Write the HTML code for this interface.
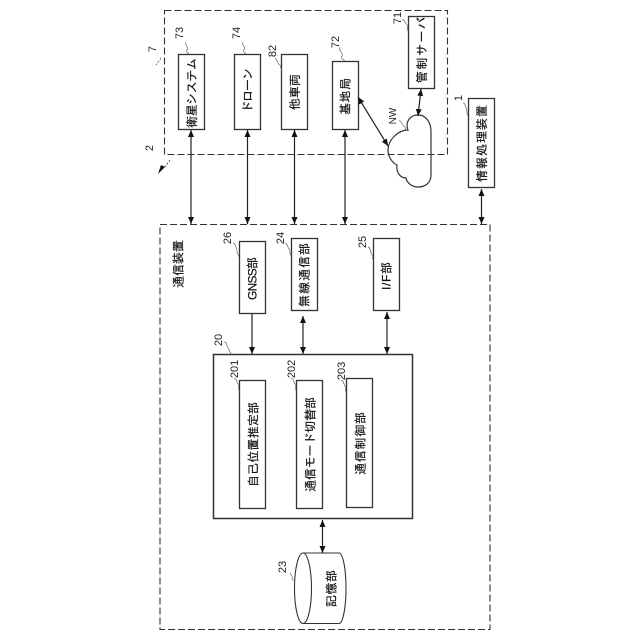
<!DOCTYPE html>
<html><head><meta charset="utf-8"><style>
html,body{margin:0;padding:0;background:#fff}
svg{display:block}
.b{fill:#fff;stroke:#333;stroke-width:1.3}
.d{fill:none;stroke:#333;stroke-width:1.1;stroke-dasharray:7 3}
.l{stroke:#222;stroke-width:1.2;fill:none}
.q{stroke:#666;stroke-width:.7;fill:none}
.t{font-family:"Liberation Sans","IPAGothic","Noto Sans CJK JP",sans-serif;font-size:12px;fill:#111;stroke:#111;stroke-width:.2}
.n{font-family:"Liberation Sans",sans-serif;font-size:11px;fill:#222}
</style></head><body>
<svg width="640" height="640" viewBox="0 0 640 640" xmlns="http://www.w3.org/2000/svg">
<defs>
<marker id="a" markerWidth="8" markerHeight="7" refX="7" refY="3.500" orient="auto-start-reverse" markerUnits="userSpaceOnUse"><path d="M0,.5L7,3.500L0,6.500z" fill="#111"/></marker>
</defs>
<rect class="d" x="164.500" y="10.500" width="283" height="144"/>
<rect class="d" x="160" y="224.500" width="330" height="405"/>

<rect class="b" x="178.500" y="54.500" width="26" height="75"/>
<rect class="b" x="234.500" y="54.500" width="26" height="75"/>
<rect class="b" x="281.500" y="54.500" width="26" height="75"/>
<rect class="b" x="332.500" y="61.500" width="26" height="68"/>
<rect class="b" x="408.500" y="16.500" width="26" height="72"/>
<rect class="b" x="468.500" y="98.500" width="26" height="89"/>

<path d="M408,130C405,122 410,115 418,115C426,115 431,122 431,132L431,175C431,183 425,187 418,187C412,187 407,183 406,178C400,178 396,172 397,165C392,163 388,156 388,150C388,140 398,130 408,130Z" fill="none" stroke="#333" stroke-width="1.200"/>

<rect class="b" x="239.500" y="241.500" width="26" height="72"/>
<rect class="b" x="291.500" y="238.500" width="26" height="72"/>
<rect class="b" x="373.500" y="238.500" width="26" height="72"/>
<rect class="b" x="213.500" y="354.500" width="199" height="164" style="stroke-width:1.500"/>
<rect class="b" x="239.500" y="380.500" width="26" height="128"/>
<rect class="b" x="296.500" y="380.500" width="26" height="128"/>
<rect class="b" x="346.500" y="378.500" width="26" height="129"/>

<path d="M303,553L339,553A7,35.200 0 0 1 339,623.500L303,623.500A8.500,35.200 0 0 1 303,553Z" fill="#fff" stroke="#333" stroke-width="1.100"/>
<path d="M303,553A8.500,35.200 0 0 1 303,623.500" fill="none" stroke="#333" stroke-width="1.100"/>

<g class="l">
<path d="M191,130V224" marker-start="url(#a)" marker-end="url(#a)"/>
<path d="M247.500,130V224" marker-start="url(#a)" marker-end="url(#a)"/>
<path d="M294.500,130V224" marker-start="url(#a)" marker-end="url(#a)"/>
<path d="M345,130V224" marker-start="url(#a)" marker-end="url(#a)"/>
<path d="M481.500,189V224" marker-start="url(#a)" marker-end="url(#a)"/>
<path d="M358,97L388,146" marker-start="url(#a)" marker-end="url(#a)"/>
<path d="M421,89L418,116" marker-start="url(#a)" marker-end="url(#a)"/>
<path d="M252,314V354" marker-end="url(#a)"/>
<path d="M303,316V354" marker-start="url(#a)" marker-end="url(#a)"/>
<path d="M387,312V354" marker-start="url(#a)" marker-end="url(#a)"/>
<path d="M322.500,520V553" marker-start="url(#a)" marker-end="url(#a)"/>
</g>

<g class="t">
<text transform="translate(196,128) rotate(-90)" textLength="70" lengthAdjust="spacing">衛星システム</text>
<text transform="translate(252,113) rotate(-90)" textLength="45" lengthAdjust="spacing">ドローン</text>
<text transform="translate(299,110) rotate(-90)" textLength="36" lengthAdjust="spacing">他車両</text>
<text transform="translate(349.500,115) rotate(-90)" textLength="37" lengthAdjust="spacing">基地局</text>
<text transform="translate(426,83) rotate(-90)" textLength="66" lengthAdjust="spacing">管制サーバ</text>
<text transform="translate(486,182) rotate(-90)" textLength="77" lengthAdjust="spacing">情報処理装置</text>
<text transform="translate(182.500,288) rotate(-90)" textLength="48" lengthAdjust="spacing">通信装置</text>
<text transform="translate(256.500,300) rotate(-90)" textLength="43" lengthAdjust="spacing">GNSS部</text>
<text transform="translate(308.500,307) rotate(-90)" textLength="64" lengthAdjust="spacing">無線通信部</text>
<text transform="translate(390.500,290) rotate(-90)" textLength="28" lengthAdjust="spacing">I/F部</text>
<text transform="translate(257.500,487) rotate(-90)" textLength="85" lengthAdjust="spacing">自己位置推定部</text>
<text transform="translate(314.500,492) rotate(-90)" textLength="95" lengthAdjust="spacing">通信モード切替部</text>
<text transform="translate(364.500,475) rotate(-90)" textLength="63" lengthAdjust="spacing">通信制御部</text>
<text transform="translate(335.500,607) rotate(-90)" textLength="37" lengthAdjust="spacing">記憶部</text>
</g>

<g class="n" text-anchor="middle">
<text transform="translate(183,33) rotate(-90)">73</text>
<text transform="translate(240,33) rotate(-90)">74</text>
<text transform="translate(276,51) rotate(-90)">82</text>
<text transform="translate(339,42) rotate(-90)">72</text>
<text transform="translate(401,18) rotate(-90)">71</text>
<text transform="translate(462,98) rotate(-90)">1</text>
<text transform="translate(156,49) rotate(-90)">7</text>
<text transform="translate(153,148) rotate(-90)">2</text>
<text transform="translate(396,116) rotate(-90)" font-size="10">NW</text>
<text transform="translate(231,238) rotate(-90)">26</text>
<text transform="translate(284,238) rotate(-90)">24</text>
<text transform="translate(366,242) rotate(-90)">25</text>
<text transform="translate(222,340) rotate(-90)">20</text>
<text transform="translate(238,369) rotate(-90)">201</text>
<text transform="translate(295,369) rotate(-90)">202</text>
<text transform="translate(345,371) rotate(-90)">203</text>
<text transform="translate(286,567) rotate(-90)">23</text>
</g>

<g class="q">
<path d="M186,42C184,46 190,47 187,50C185,52 189,53 189,54"/>
<path d="M243,42C241,46 247,47 244,50C242,52 246,53 246,54"/>
<path d="M275,58C278,60 277,64 280,65C281,67 281,70 282,71"/>
<path d="M340,47C338,51 344,53 342,56C340,58 344,60 345,61"/>
<path d="M402,20C405,19 405,24 408,26C406,28 408,30 408,31"/>
<path d="M463,103C466,103 465,108 467,110C466,113 468,115 468,116"/>
<path d="M399,121C402,120 402,126 405,127C405,129 407,130 407,130"/>
<path d="M233,243C236,243 235,247 237,249C236,252 239,256 239,257"/>
<path d="M285,243C288,243 287,248 290,250C289,253 291,255 291,256"/>
<path d="M368,247C371,247 370,254 373,256C372,258 373,260 374,261"/>
<path d="M224,342C228,342 226,347 229,349C229,351 231,353 231,354"/>
<path d="M234,379C237,377 236,383 239,385C238,387 239,390 239,391"/>
<path d="M291,379C294,377 293,383 296,385C295,387 296,390 296,391"/>
<path d="M341,381C344,379 343,385 346,387C345,389 346,392 346,392"/>
<path d="M290,573C291,576 293,575 292,579C293,581 294,580 295,581"/>
</g>
<path d="M161,58L156,65" stroke="#555" stroke-width=".8" stroke-dasharray="2 1.500" fill="none"/>
<path d="M170,160L164,168" stroke="#333" stroke-width=".8" stroke-dasharray="2 1.500" fill="none"/>
<path d="M165,167L158,174L161,165z" fill="#111"/>
</svg>
</body></html>
